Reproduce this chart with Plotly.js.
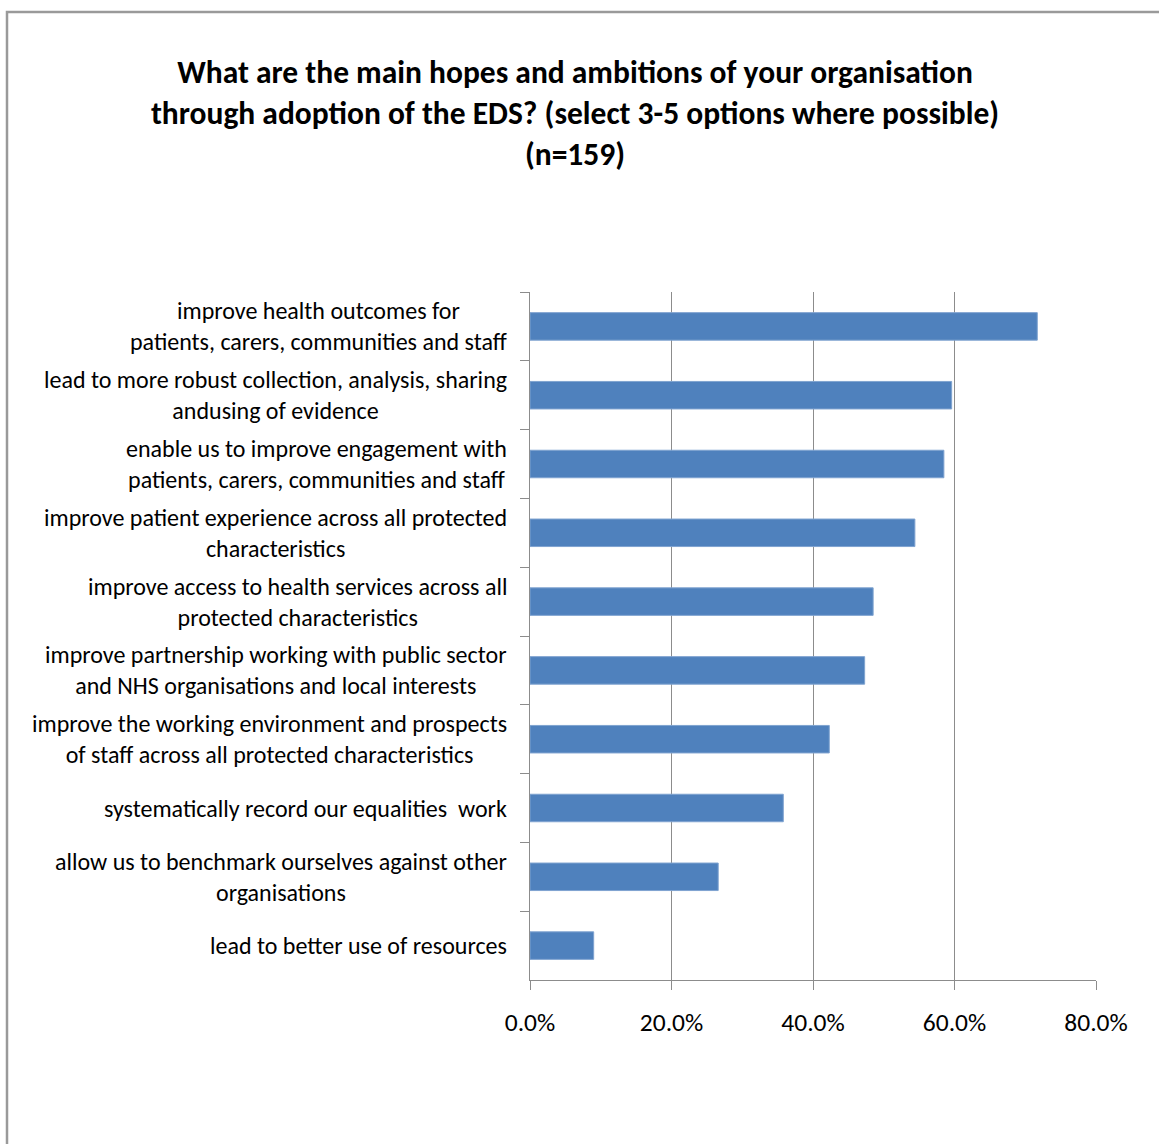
<!DOCTYPE html>
<html>
<head>
<meta charset="utf-8">
<script src="https://cdn.plot.ly/plotly-3.0.1.min.js"></script>
<style>
html,body{margin:0;padding:0;background:#fff;}
#chart{width:1159px;height:1144px;}
</style>
</head>
<body>
<div id="chart"></div>
<script>
var categories = [
  "improve health outcomes for<br>patients, carers, communities and staff",
  "lead to more robust collection, analysis, sharing<br>andusing of evidence",
  "enable us to improve engagement with<br>patients, carers, communities and staff",
  "improve patient experience across all protected<br>characteristics",
  "improve access to health services across all<br>protected characteristics",
  "improve partnership working with public sector<br>and NHS organisations and local interests",
  "improve the working environment and prospects<br>of staff across all protected characteristics",
  "systematically record our equalities  work",
  "allow us to benchmark ourselves against other<br>organisations",
  "lead to better use of resources"
];
var values = [0.717, 0.596, 0.585, 0.544, 0.485, 0.473, 0.423, 0.358, 0.266, 0.090];
var xTickVals = [0, 0.2, 0.4, 0.6, 0.8];
var xTickText = ["0.0%", "20.0%", "40.0%", "60.0%", "80.0%"];
var titleText = "<b>What are the main hopes and ambitions of your organisation<br>through adoption of the EDS? (select 3-5 options where possible)<br>(n=159)</b>";

var font = "Carlito, Lato, 'Open Sans', sans-serif";

var trace = {
  type: "bar",
  orientation: "h",
  y: categories,
  x: values,
  marker: {color: "#4F81BD", line: {color: "#7FA3D0", width: 1}},
  hoverinfo: "x+y"
};

// centred multi-line category labels, right edge next to the axis
var labelAnnotations = categories.map(function (c) {
  return {
    xref: "paper", yref: "y",
    x: 0, y: c,
    xanchor: "right", yanchor: "middle",
    xshift: -21,
    align: "center",
    showarrow: false,
    text: c,
    font: {family: font, size: 24, color: "#000"}
  };
});

var layout = {
  width: 1159,
  height: 1144,
  paper_bgcolor: "#ffffff",
  plot_bgcolor: "#ffffff",
  margin: {l: 530, r: 63, t: 292, b: 164},
  showlegend: false,
  bargap: 0.6,
  title: {
    text: titleText,
    font: {family: font, size: 31.5, color: "#000"},
    x: 575/1159, xanchor: "center",
    xref: "container",
    y: 1 - 83/1144, yanchor: "top",
    yref: "container"
  },
  xaxis: {
    range: [0, 0.8],
    tickvals: xTickVals,
    ticktext: xTickText,
    showgrid: true,
    gridcolor: "#8c8c8c",
    gridwidth: 1,
    zeroline: false,
    showline: true,
    linecolor: "#8c8c8c",
    linewidth: 1,
    ticks: "outside",
    ticklen: 9,
    tickcolor: "#8c8c8c",
    ticklabelstandoff: 10,
    tickfont: {family: font, size: 25.5, color: "#000"},
    fixedrange: true
  },
  yaxis: {
    type: "category",
    autorange: "reversed",
    showline: true,
    linecolor: "#8c8c8c",
    linewidth: 1,
    ticks: "outside",
    tickson: "boundaries",
    ticklen: 9,
    tickcolor: "#8c8c8c",
    showgrid: false,
    showticklabels: false,
    automargin: false,
    fixedrange: true
  },
  annotations: labelAnnotations,
  shapes: [{
    type: "rect",
    xref: "paper", yref: "paper",
    x0: (7-530)/566, x1: (1170-530)/566,
    y0: (980-1155)/688, y1: (980-12)/688,
    line: {color: "#9a9a9a", width: 2.5},
    fillcolor: "rgba(0,0,0,0)",
    layer: "below"
  }]
};

Plotly.newPlot("chart", [trace], layout, {displayModeBar: false, staticPlot: true});
</script>
</body>
</html>
